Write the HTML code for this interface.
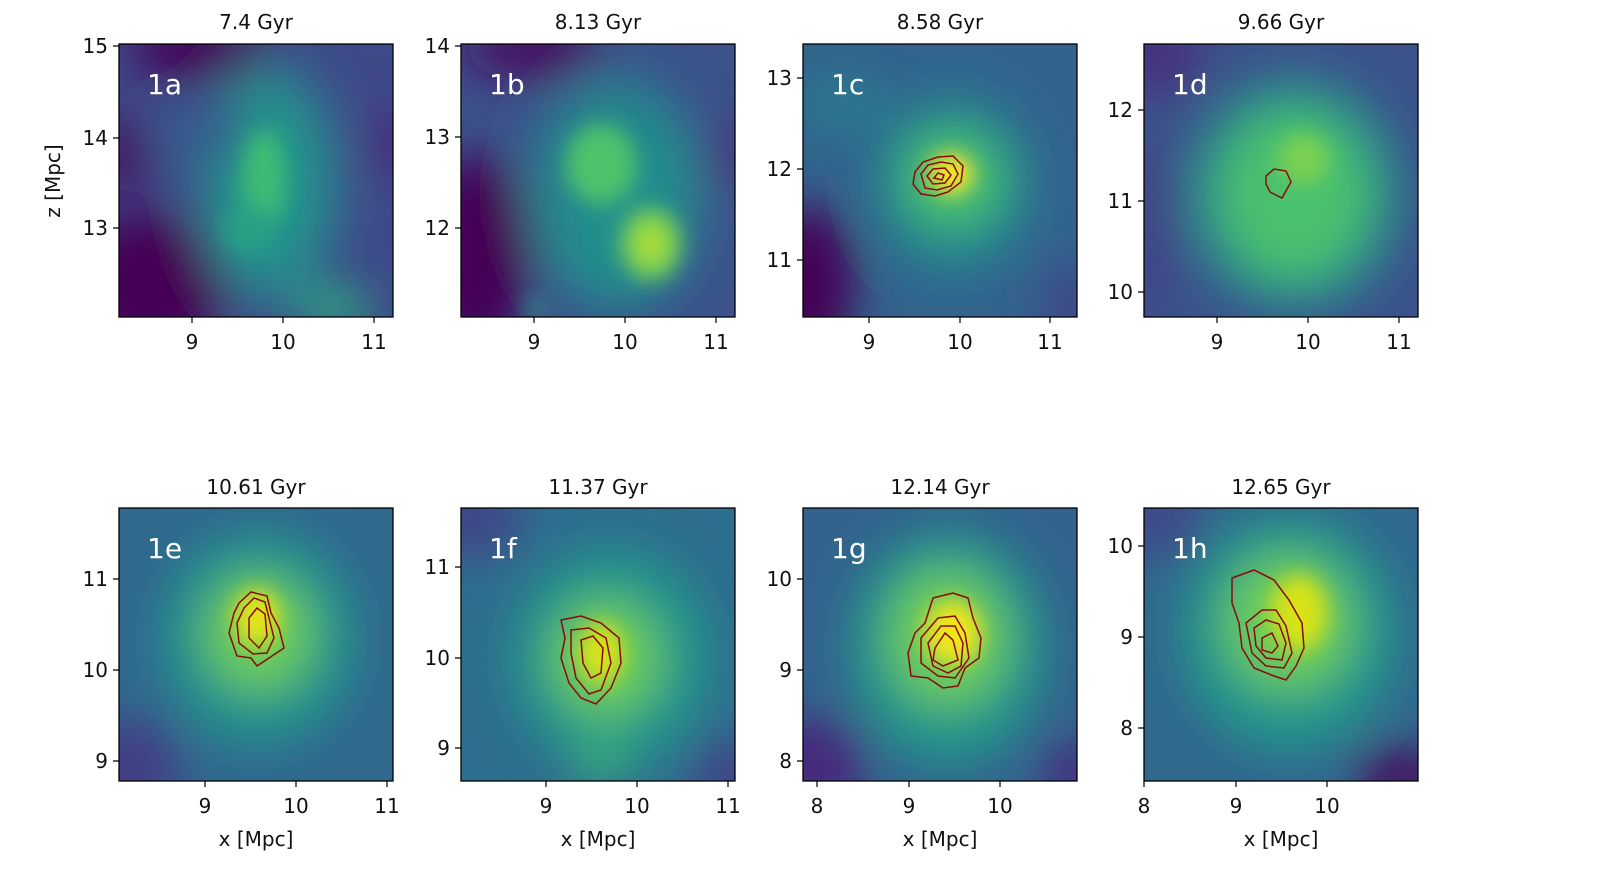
<!DOCTYPE html>
<html><head><meta charset="utf-8"><style>
body{margin:0;background:#fff}
svg text{font-family:"DejaVu Sans","Liberation Sans",sans-serif;fill:#111}
</style></head><body>
<svg width="1600" height="876" viewBox="0 0 1600 876" xmlns="http://www.w3.org/2000/svg">
<defs>
<filter id="b1" x="-50%" y="-50%" width="200%" height="200%"><feGaussianBlur stdDeviation="22"/></filter>
<filter id="b2" x="-50%" y="-50%" width="200%" height="200%"><feGaussianBlur stdDeviation="10"/></filter>
<clipPath id="cp"><rect x="0" y="0" width="274" height="273"/></clipPath>
</defs>

<!-- Panel a -->
<g transform="translate(119,44)">
<g clip-path="url(#cp)">
<rect width="274" height="273" fill="#3e4a89"/>
<g filter="url(#b1)">
<ellipse cx="30" cy="240" rx="80" ry="70" fill="#440154"/>
<ellipse cx="80" cy="5" rx="70" ry="30" fill="#440154"/>
<ellipse cx="5" cy="110" rx="25" ry="40" fill="#450a5c"/>
<ellipse cx="270" cy="100" rx="20" ry="40" fill="#472c7a"/>
<ellipse cx="150" cy="140" rx="75" ry="125" fill="#2a7f8e"/>
<ellipse cx="150" cy="140" rx="45" ry="90" fill="#22958b"/>
<ellipse cx="80" cy="90" rx="50" ry="25" fill="#355f8d"/>
<ellipse cx="215" cy="265" rx="40" ry="20" fill="#2aaf7f"/>
</g>
<g filter="url(#b2)">
<ellipse cx="145" cy="135" rx="22" ry="50" fill="#3dbb74"/>
<ellipse cx="130" cy="185" rx="25" ry="25" fill="#25a085"/>
</g>
</g>
<rect width="274" height="273" fill="none" stroke="#000" stroke-width="1.3"/>
<text x="28" y="50" font-size="28" style="fill:#fff">1a</text>
</g>

<!-- Panel b -->
<g transform="translate(461,44)">
<g clip-path="url(#cp)">
<rect width="274" height="273" fill="#3b528b"/>
<g filter="url(#b1)">
<ellipse cx="15" cy="210" rx="55" ry="100" fill="#440154"/>
<ellipse cx="70" cy="5" rx="70" ry="30" fill="#46105f"/>
<ellipse cx="270" cy="110" rx="20" ry="40" fill="#472d7b"/>
<ellipse cx="155" cy="150" rx="90" ry="120" fill="#25838e"/>
<ellipse cx="160" cy="160" rx="50" ry="80" fill="#21918c"/>
</g>
<g filter="url(#b2)">
<ellipse cx="140" cy="120" rx="35" ry="40" fill="#4ec36b"/>
<ellipse cx="190" cy="200" rx="30" ry="36" fill="#7ad151"/>
<ellipse cx="190" cy="200" rx="12" ry="15" fill="#b5de2b"/>
<ellipse cx="75" cy="265" rx="10" ry="10" fill="#2a8f8b"/>
</g>
</g>
<rect width="274" height="273" fill="none" stroke="#000" stroke-width="1.3"/>
<text x="28" y="50" font-size="28" style="fill:#fff">1b</text>
</g>

<!-- Panel c -->
<g transform="translate(803,44)">
<g clip-path="url(#cp)">
<rect width="274" height="273" fill="#33638d"/>
<g filter="url(#b1)">
<ellipse cx="5" cy="240" rx="45" ry="80" fill="#440154"/>
<ellipse cx="40" cy="60" rx="50" ry="30" fill="#2a788e"/>
<ellipse cx="270" cy="260" rx="30" ry="40" fill="#414487"/>
<ellipse cx="150" cy="140" rx="80" ry="90" fill="#24878e"/>
<ellipse cx="150" cy="135" rx="50" ry="50" fill="#4ac16d"/>
</g>
<g filter="url(#b2)">
<ellipse cx="148" cy="130" rx="22" ry="20" fill="#fde725"/>
</g>
</g>
<g fill="none" stroke="#8b0a0a" stroke-width="1.5">
<path d="M112,128 L120,118 L135,113 L150,112 L160,122 L158,138 L145,148 L132,152 L118,150 L110,140 Z"/>
<path d="M118,130 L125,121 L138,118 L150,120 L155,130 L148,142 L134,146 L122,144 Z"/>
<path d="M124,132 L130,125 L142,124 L148,131 L142,139 L130,140 Z"/>
<path d="M131,134 L135,129 L141,131 L139,136 Z"/>
</g>
<rect width="274" height="273" fill="none" stroke="#000" stroke-width="1.3"/>
<text x="28" y="50" font-size="28" style="fill:#fff">1c</text>
</g>

<!-- Panel d -->
<g transform="translate(1144,44)">
<g clip-path="url(#cp)">
<rect width="274" height="273" fill="#3b528b"/>
<g filter="url(#b1)">
<ellipse cx="10" cy="10" rx="50" ry="40" fill="#46307e"/>
<ellipse cx="5" cy="180" rx="30" ry="90" fill="#414487"/>
<ellipse cx="150" cy="150" rx="110" ry="120" fill="#2a8a8c"/>
<ellipse cx="150" cy="150" rx="75" ry="85" fill="#4ac16d"/>
</g>
<g filter="url(#b2)">
<ellipse cx="160" cy="115" rx="25" ry="25" fill="#7bd151"/>
</g>
</g>
<path d="M122,132 L130,125 L142,127 L147,138 L138,154 L126,148 L122,140 Z" fill="none" stroke="#8b0a0a" stroke-width="1.5"/>
<rect width="274" height="273" fill="none" stroke="#000" stroke-width="1.3"/>
<text x="28" y="50" font-size="28" style="fill:#fff">1d</text>
</g>

<!-- Panel e -->
<g transform="translate(119,508)">
<g clip-path="url(#cp)">
<rect width="274" height="273" fill="#31688e"/>
<g filter="url(#b1)">
<ellipse cx="10" cy="260" rx="50" ry="50" fill="#433e85"/>
<ellipse cx="140" cy="130" rx="100" ry="110" fill="#21918c"/>
<ellipse cx="140" cy="125" rx="55" ry="60" fill="#6ccd5a"/>
</g>
<g filter="url(#b2)"><ellipse cx="138" cy="110" rx="22" ry="28" fill="#e5e419"/></g>
</g>
<g fill="none" stroke="#8b0a0a" stroke-width="1.5">
<path d="M120,95 L132,84 L148,88 L152,105 L160,120 L165,140 L150,150 L138,158 L132,150 L118,148 L110,125 L115,105 Z"/>
<path d="M125,100 L135,90 L146,94 L150,110 L155,130 L148,145 L134,146 L120,135 L118,115 Z"/>
<path d="M130,110 L138,100 L146,106 L148,128 L140,140 L130,130 Z"/>
</g>
<rect width="274" height="273" fill="none" stroke="#000" stroke-width="1.3"/>
<text x="28" y="50" font-size="28" style="fill:#fff">1e</text>
</g>

<!-- Panel f -->
<g transform="translate(461,508)">
<g clip-path="url(#cp)">
<rect width="274" height="273" fill="#2e6e8e"/>
<g filter="url(#b1)">
<ellipse cx="10" cy="10" rx="50" ry="40" fill="#414487"/>
<ellipse cx="270" cy="270" rx="40" ry="40" fill="#414487"/>
<ellipse cx="150" cy="150" rx="100" ry="110" fill="#22958b"/>
<ellipse cx="145" cy="150" rx="55" ry="60" fill="#6ccd5a"/>
<ellipse cx="140" cy="255" rx="30" ry="15" fill="#3fbc73"/>
</g>
<g filter="url(#b2)"><ellipse cx="140" cy="145" rx="22" ry="30" fill="#d8e219"/></g>
</g>
<g fill="none" stroke="#8b0a0a" stroke-width="1.5">
<path d="M100,112 L120,108 L140,115 L158,130 L160,155 L150,180 L135,196 L120,190 L108,175 L100,150 L104,130 Z"/>
<path d="M110,122 L128,120 L145,130 L150,155 L140,182 L128,186 L115,170 L110,145 Z"/>
<path d="M120,132 L132,128 L142,140 L140,165 L130,170 L122,155 Z"/>
</g>
<rect width="274" height="273" fill="none" stroke="#000" stroke-width="1.3"/>
<text x="28" y="50" font-size="28" style="fill:#fff">1f</text>
</g>

<!-- Panel g -->
<g transform="translate(803,508)">
<g clip-path="url(#cp)">
<rect width="274" height="273" fill="#33638d"/>
<g filter="url(#b1)">
<ellipse cx="10" cy="260" rx="50" ry="50" fill="#46287b"/>
<ellipse cx="270" cy="265" rx="30" ry="30" fill="#46287b"/>
<ellipse cx="145" cy="140" rx="100" ry="120" fill="#22948b"/>
<ellipse cx="145" cy="130" rx="60" ry="70" fill="#6ccd5a"/>
</g>
<g filter="url(#b2)"><ellipse cx="150" cy="125" rx="28" ry="32" fill="#f1e51d"/></g>
</g>
<g fill="none" stroke="#8b0a0a" stroke-width="1.5">
<path d="M130,90 L150,85 L165,90 L170,110 L178,130 L176,150 L162,160 L155,178 L140,180 L125,170 L108,168 L105,145 L112,125 L122,115 Z"/>
<path d="M118,130 L135,110 L152,108 L162,125 L166,150 L152,170 L135,168 L118,155 Z"/>
<path d="M125,135 L138,118 L152,118 L160,135 L158,158 L145,165 L130,158 Z"/>
<path d="M132,140 L142,125 L150,132 L155,152 L140,158 L130,152 Z"/>
</g>
<rect width="274" height="273" fill="none" stroke="#000" stroke-width="1.3"/>
<text x="28" y="50" font-size="28" style="fill:#fff">1g</text>
</g>

<!-- Panel h -->
<g transform="translate(1144,508)">
<g clip-path="url(#cp)">
<rect width="274" height="273" fill="#31688e"/>
<g filter="url(#b1)">
<ellipse cx="10" cy="10" rx="50" ry="40" fill="#3e4a89"/>
<ellipse cx="260" cy="270" rx="50" ry="30" fill="#440f5f"/>
<ellipse cx="145" cy="125" rx="110" ry="120" fill="#22958b"/>
<ellipse cx="145" cy="115" rx="65" ry="70" fill="#6ccd5a"/>
</g>
<g filter="url(#b2)"><ellipse cx="155" cy="105" rx="28" ry="38" fill="#d8e219"/></g>
</g>
<g fill="none" stroke="#8b0a0a" stroke-width="1.5">
<path d="M88,70 L110,62 L130,72 L145,92 L158,115 L160,140 L152,158 L142,172 L130,168 L110,160 L98,140 L95,115 L88,95 Z"/>
<path d="M102,115 L118,102 L132,102 L142,118 L148,145 L140,160 L122,158 L108,145 Z"/>
<path d="M110,120 L122,112 L135,116 L142,135 L138,152 L122,150 L112,138 Z"/>
<path d="M118,130 L128,125 L134,138 L128,145 L118,142 Z"/>
</g>
<rect width="274" height="273" fill="none" stroke="#000" stroke-width="1.3"/>
<text x="28" y="50" font-size="28" style="fill:#fff">1h</text>
</g>

<g stroke="#000" stroke-width="1.2">
<path d="M192,317v6M283,317v6M374,317v6M534,317v6M625,317v6M716,317v6M869,317v6M960,317v6M1050,317v6M1217,317v6M1308,317v6M1399,317v6"/>
<path d="M119,46h-6M119,138h-6M119,228h-6M461,46h-6M461,137h-6M461,228h-6M803,78h-6M803,169h-6M803,260h-6M1144,110h-6M1144,201h-6M1144,292h-6"/>
<path d="M205,781v6M296,781v6M387,781v6M546,781v6M637,781v6M728,781v6M817,781v6M909,781v6M1000,781v6M1144,781v6M1236,781v6M1327,781v6"/>
<path d="M119,579h-6M119,670h-6M119,761h-6M461,567h-6M461,658h-6M461,748h-6M803,579h-6M803,670h-6M803,761h-6M1144,546h-6M1144,637h-6M1144,728h-6"/>
</g>

<g font-size="20" text-anchor="middle">
<text x="256" y="29">7.4 Gyr</text><text x="598" y="29">8.13 Gyr</text><text x="940" y="29">8.58 Gyr</text><text x="1281" y="29">9.66 Gyr</text>
<text x="256" y="494">10.61 Gyr</text><text x="598" y="494">11.37 Gyr</text><text x="940" y="494">12.14 Gyr</text><text x="1281" y="494">12.65 Gyr</text>
<text x="192" y="349">9</text><text x="283" y="349">10</text><text x="374" y="349">11</text>
<text x="534" y="349">9</text><text x="625" y="349">10</text><text x="716" y="349">11</text>
<text x="869" y="349">9</text><text x="960" y="349">10</text><text x="1050" y="349">11</text>
<text x="1217" y="349">9</text><text x="1308" y="349">10</text><text x="1399" y="349">11</text>
<text x="205" y="813">9</text><text x="296" y="813">10</text><text x="387" y="813">11</text>
<text x="546" y="813">9</text><text x="637" y="813">10</text><text x="728" y="813">11</text>
<text x="817" y="813">8</text><text x="909" y="813">9</text><text x="1000" y="813">10</text>
<text x="1144" y="813">8</text><text x="1236" y="813">9</text><text x="1327" y="813">10</text>
<text x="256" y="846">x [Mpc]</text><text x="598" y="846">x [Mpc]</text><text x="940" y="846">x [Mpc]</text><text x="1281" y="846">x [Mpc]</text>
</g>
<g font-size="20" text-anchor="end">
<text x="108" y="53">15</text><text x="108" y="145">14</text><text x="108" y="235">13</text>
<text x="450" y="53">14</text><text x="450" y="144">13</text><text x="450" y="235">12</text>
<text x="792" y="85">13</text><text x="792" y="176">12</text><text x="792" y="267">11</text>
<text x="1133" y="117">12</text><text x="1133" y="208">11</text><text x="1133" y="299">10</text>
<text x="108" y="586">11</text><text x="108" y="677">10</text><text x="108" y="768">9</text>
<text x="450" y="574">11</text><text x="450" y="665">10</text><text x="450" y="755">9</text>
<text x="792" y="586">10</text><text x="792" y="677">9</text><text x="792" y="768">8</text>
<text x="1133" y="553">10</text><text x="1133" y="644">9</text><text x="1133" y="735">8</text>
</g>
<text x="60" y="181" font-size="20" text-anchor="middle" transform="rotate(-90 60 181)">z [Mpc]</text>
</svg>
</body></html>
